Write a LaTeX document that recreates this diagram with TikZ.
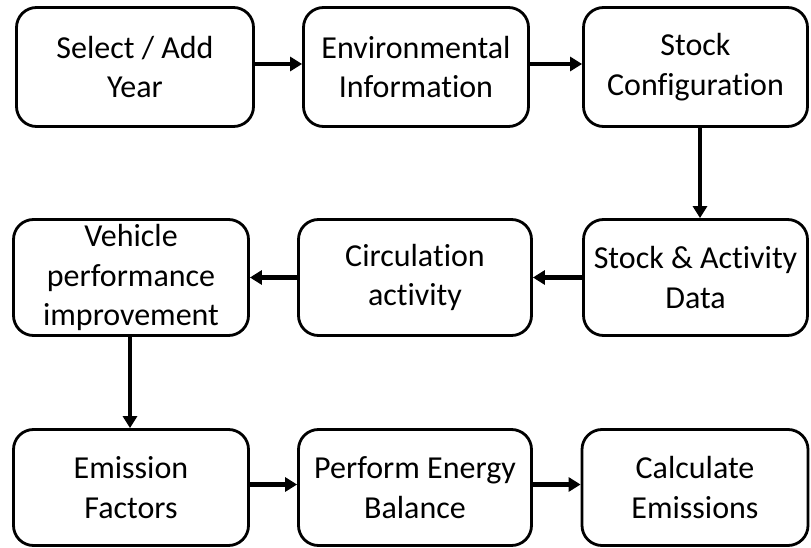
\documentclass[tikz,border=0pt]{standalone}
\usepackage{fontspec}
\setmainfont[RawFeature={-liga;-clig;-dlig;-calt}]{Carlito}
\usetikzlibrary{arrows.meta}
\tikzset{
  stepbox/.style={draw=black, line width=2.8pt, rounded corners=20pt, align=center,
    inner sep=0pt, font=\fontsize{32}{39.5}\selectfont},
  flow/.style={line width=4.3pt, -{Triangle[length=12pt,width=14pt]}}
}
\begin{document}
\begin{tikzpicture}[x=1pt,y=-1pt]
\useasboundingbox (0,0) rectangle (811,548);
\node[stepbox, minimum width=237pt, minimum height=119pt] (b1) at (135,67) {Select / Add\\Year};
\node[stepbox, minimum width=225pt, minimum height=119pt] (b2) at (416,67) {Environmental\\Information};
\node[stepbox, minimum width=224pt, minimum height=119pt] (b3) at (695.5,67) {Stock\\Configuration};
\node[stepbox, minimum width=235pt, minimum height=116pt] (b4) at (131,277.5) {Vehicle\\performance\\improvement};
\node[stepbox, minimum width=233pt, minimum height=116pt] (b5) at (415,277.5) {Circulation\\activity};
\node[stepbox, minimum width=224pt, minimum height=116pt] (b6) at (695.5,277.5) {Stock \& Activity\\Data};
\node[stepbox, minimum width=235pt, minimum height=116pt] (b7) at (131,487.5) {Emission\\Factors};
\node[stepbox, minimum width=233pt, minimum height=116pt] (b8) at (415,487.5) {Perform Energy\\Balance};
\node[stepbox, minimum width=226pt, minimum height=116pt] (b9) at (695,487.5) {Calculate\\Emissions};
\draw[flow] ([yshift=3pt]b1.east) -- ([yshift=3pt]b2.west);
\draw[flow] ([yshift=3pt]b2.east) -- ([yshift=3pt]b3.west);
\draw[flow] ([xshift=4.5pt]b3.south) -- ([xshift=4.5pt]b6.north);
\draw[flow] (b6.west) -- (b5.east);
\draw[flow] (b5.west) -- (b4.east);
\draw[flow] ([xshift=-1pt]b4.south) -- ([xshift=-1pt]b7.north);
\draw[flow] ([yshift=3pt]b7.east) -- ([yshift=3pt]b8.west);
\draw[flow] ([yshift=3pt]b8.east) -- ([yshift=3pt]b9.west);
\end{tikzpicture}
\end{document}
